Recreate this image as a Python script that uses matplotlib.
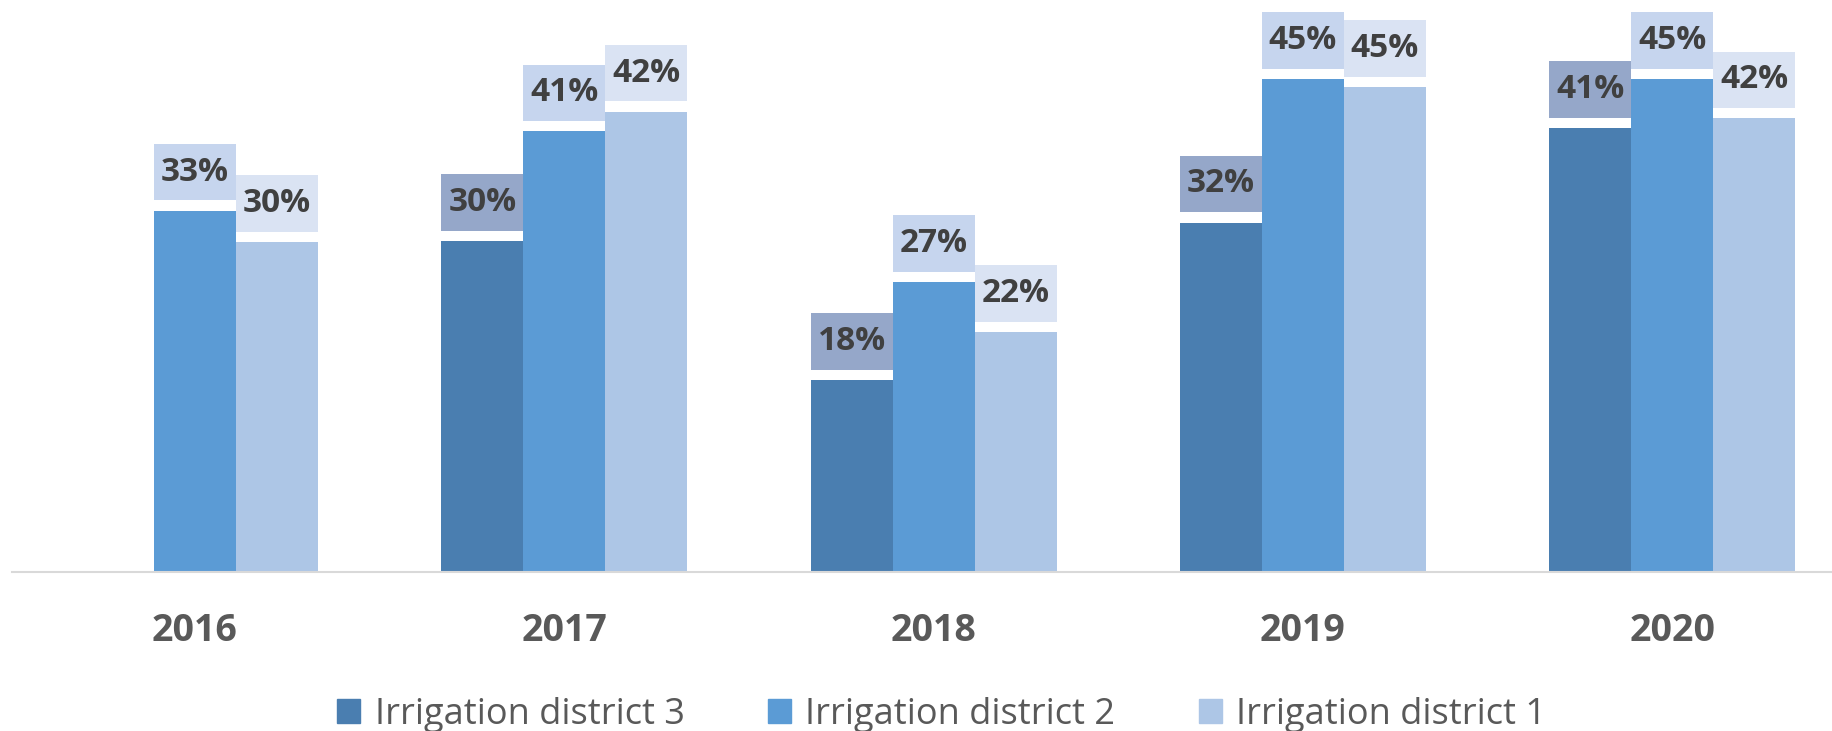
import matplotlib.pyplot as plt
from matplotlib.patches import Rectangle
import numpy as np

# data (percent)
years = ["2016", "2017", "2018", "2019", "2020"]
district3 = [np.nan, 30.5, 17.7, 32.2, 40.9]
district2 = [33.3, 40.6, 26.7, 45.4, 45.4]
district1 = [30.4, 42.4, 22.1, 44.7, 41.8]
series_names = ["Irrigation district 3", "Irrigation district 2", "Irrigation district 1"]

bar_colors = ["#4a7eb0", "#5b9bd5", "#adc6e6"]
box_colors = ["#95a7c9", "#c6d5ee", "#dae3f3"]

plt.rcParams['font.family'] = ['Open Sans', 'DejaVu Sans']

png_width = 1832
png_height = 731
png_dpi = 100

fig = plt.figure(figsize=(png_width / png_dpi, png_height / png_dpi), dpi=png_dpi)
ax = fig.add_axes([12 / png_width, (png_height - 572) / png_height,
                   1820 / png_width, 572 / png_height])

x = np.arange(len(years))
width = 0.222
offsets = [-width, 0, width]
box_h = 5.2
gap = 0.95

for vals, off, bc, lc in zip([district3, district2, district1], offsets, bar_colors, box_colors):
    vals = np.array(vals, dtype=float)
    ax.bar(x + off, vals, width=width, color=bc, edgecolor='none')
    for xi, v in zip(x + off, vals):
        if np.isnan(v):
            continue
        ax.bar(xi, box_h, bottom=v + gap, width=width, color=lc, edgecolor='none')
        ax.text(xi, v + gap + box_h / 2, f"{v:.0f}%", ha='center', va='center',
                fontsize=24, fontweight='bold', color='#404040')

ax.set_xlim(-0.4956, 4.433)
ax.set_ylim(0, 52.7)
ax.set_xticks(x)
ax.set_xticklabels(years, fontsize=27, fontweight='bold', color='#595959')
ax.tick_params(axis='x', length=0, pad=29)
ax.set_yticks([])
for s in ['top', 'right', 'left']:
    ax.spines[s].set_visible(False)
ax.spines['bottom'].set_color('#d9d9d9')
ax.spines['bottom'].set_linewidth(1.5)

handles = [Rectangle((0, 0), 1, 1, color=c) for c in bar_colors]
fig.legend(handles, series_names, loc='center', bbox_to_anchor=(0.514, 0.022),
           ncol=3, frameon=False, fontsize=26, labelcolor='#595959',
           handlelength=0.65, handleheight=0.65, handletextpad=0.4, columnspacing=2.3)

plt.savefig("out.png", dpi=png_dpi)
